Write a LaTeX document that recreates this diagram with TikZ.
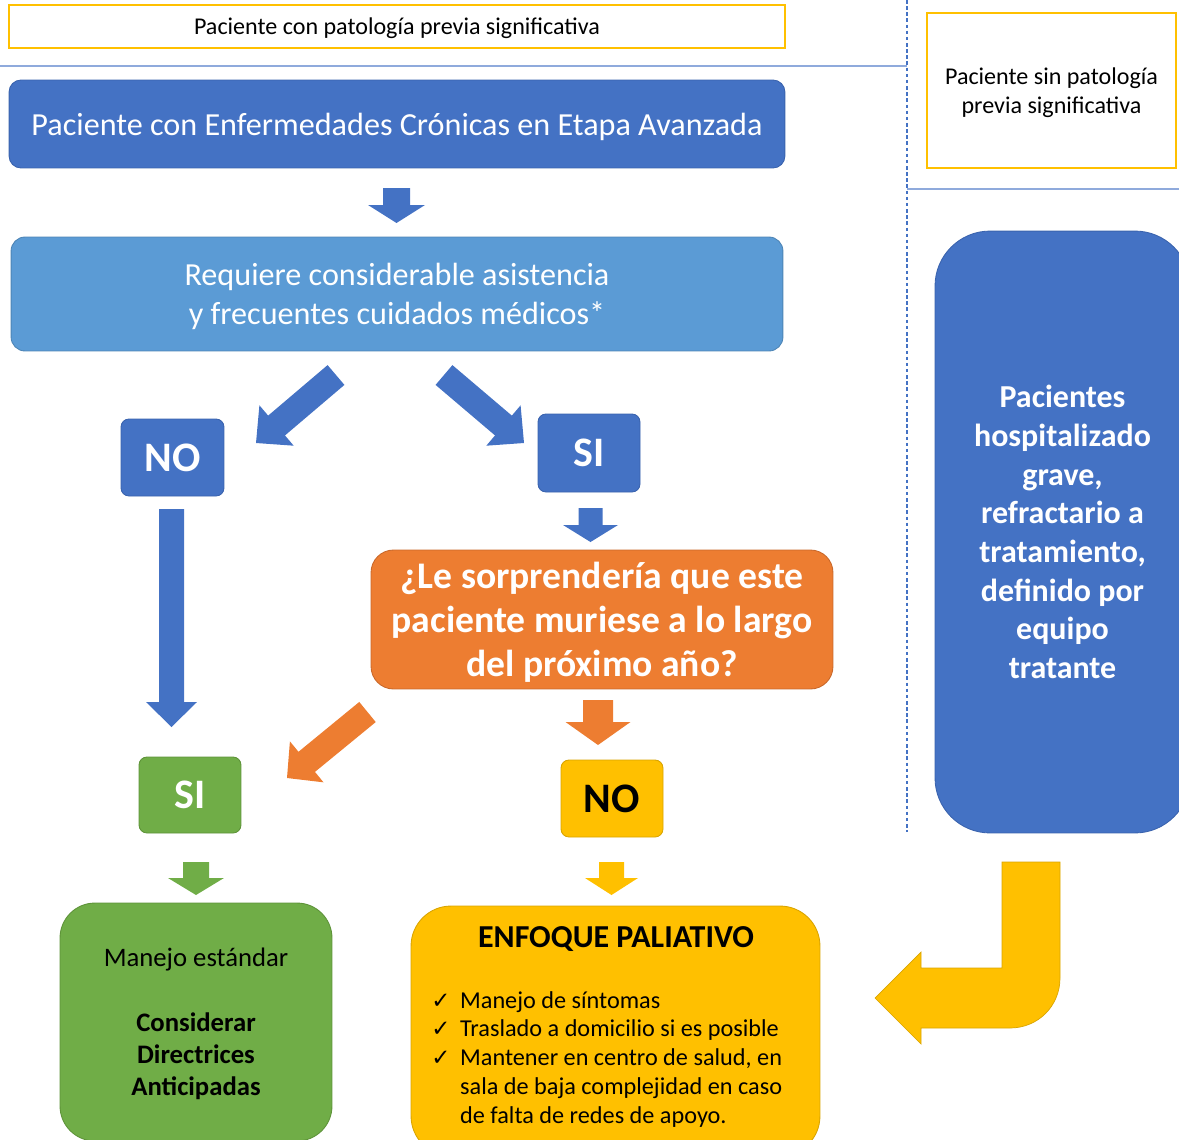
\documentclass[tikz,border=0pt]{standalone}
\usepackage{fontspec}
\setmainfont{Carlito}
\newfontfamily\symfont{DejaVu Sans}
\usetikzlibrary{calc}

\definecolor{azul}{HTML}{4472C4}
\definecolor{azulb}{HTML}{3A63AE}
\definecolor{celeste}{HTML}{5B9BD5}
\definecolor{naranja}{HTML}{ED7D31}
\definecolor{naranjab}{HTML}{C9682A}
\definecolor{verde}{HTML}{70AD47}
\definecolor{verdeb}{HTML}{5E9339}
\definecolor{amarillo}{HTML}{FFC000}
\definecolor{amarillob}{HTML}{D9A400}
\definecolor{linea}{HTML}{8FAADC}

\tikzset{
  etiqueta/.style={draw=amarillo, line width=0.8pt, fill=white, align=center, inner sep=0pt,
    text depth=0pt, font=\fontsize{13.7}{16.4}\selectfont},
  caja/.style={rectangle, rounded corners=#1, line width=0.5pt, align=center, inner sep=0pt},
  caja/.default=0.24cm,
  azulcaja/.style={caja=#1, fill=azul, draw=azulb, text=white},
  azulcaja/.default=0.24cm,
  respuesta/.style={minimum width=2.04cm, minimum height=1.54cm,
    font=\fontsize{23.9}{28}\selectfont\bfseries},
  separa/.style={draw=linea, line width=0.6pt},
}

% block arrow: style, from, to, half shaft, half head, head length
\newcommand{\blockarrow}[6]{%
  \coordinate (hb) at ($(#3)!#6!(#2)$);
  \fill[#1] ($(#2)!#4!90:(#3)$) -- ($(hb)!#4!90:(#3)$) -- ($(hb)!#5!90:(#3)$) -- (#3)
    -- ($(hb)!#5!-90:(#3)$) -- ($(hb)!#4!-90:(#3)$) -- ($(#2)!#4!-90:(#3)$) -- cycle;
}
\newcommand{\marca}{{\symfont\fontsize{13}{16.4}\selectfont ✓}}

\begin{document}
\begin{tikzpicture}[x=0.02cm, y=-0.02cm]
  \useasboundingbox (0,0) rectangle (1179,1139);
  \clip (0,0) rectangle (1179,1139);

  \draw[separa] (0,66) -- (907,66);
  \draw[separa] (907,189) -- (1179,189);
  \draw[azul, line width=0.7pt, dash pattern=on 2pt off 1.5pt] (907,0) -- (907,832);

  \node[etiqueta, minimum width=15.52cm, minimum height=0.86cm] (conprevia) at (397,26.5)
    {Paciente con patología previa significativa};
  \node[etiqueta, minimum width=4.98cm, minimum height=3.1cm] (sinprevia) at (1051.5,90.5)
    {Paciente sin patología\\previa significativa};

  \node[azulcaja, minimum width=15.52cm, minimum height=1.76cm, text depth=0pt,
    font=\fontsize{18.3}{22}\selectfont] (cronica) at (397,124)
    {Paciente con Enfermedades Crónicas en Etapa Avanzada};
  \node[caja=0.28cm, fill=celeste, draw=celeste!85!black, text=white,
    minimum width=15.44cm, minimum height=2.28cm, text depth=0pt,
    font=\fontsize{18.3}{22}\selectfont] (requiere) at (397,294)
    {Requiere considerable asistencia\\y frecuentes cuidados médicos*};

  \node[azulcaja=0.16cm, respuesta, minimum width=2.06cm] (no1) at (172.5,457.5) {NO};
  \node[azulcaja=0.16cm, respuesta, minimum height=1.56cm] (si1) at (589,453) {SI};

  \node[caja=0.45cm, fill=naranja, draw=naranjab, text=white,
    minimum width=9.24cm, minimum height=2.78cm, text depth=0pt,
    font=\fontsize{21.4}{25}\selectfont\bfseries] (pregunta) at (602,619.5)
    {¿Le sorprendería que este\\paciente muriese a lo largo\\del próximo año?};

  \node[caja=0.16cm, respuesta, fill=verde, draw=verdeb, text=white,
    minimum height=1.52cm] (si2) at (190,795) {SI};
  \node[caja=0.16cm, respuesta, fill=amarillo, draw=amarillob, text=black] (no2) at (612,798.5) {NO};

  \node[caja=0.7cm, fill=verde, draw=verdeb, text=black,
    minimum width=5.44cm, minimum height=4.76cm, text depth=0pt,
    font=\fontsize{15.2}{18.4}\selectfont] (manejo) at (196,1022)
    {Manejo estándar\\[18.4pt]\textbf{Considerar}\\\textbf{Directrices}\\\textbf{Anticipadas}};

  \node[caja=0.8cm, fill=amarillo, draw=amarillob,
    minimum width=8.18cm, minimum height=5cm] (paliativo) at (615.5,1031) {};
  \node[font=\fontsize{18.2}{22}\selectfont\bfseries] (titulo) at (616,939) {ENFOQUE PALIATIVO};
  \node[anchor=base west, inner sep=0pt, font=\fontsize{13.8}{16.4}\selectfont] (lista) at (431,1008)
    {\begin{tabular}[t]{@{}l@{\hspace{5.5pt}}l@{}}
      \marca & Manejo de síntomas\\
      \marca & Traslado a domicilio si es posible\\
      \marca & Mantener en centro de salud, en\\
      & sala de baja complejidad en caso\\
      & de falta de redes de apoyo.
    \end{tabular}};

  \node[azulcaja=1.1cm, minimum width=5.1cm, minimum height=12.04cm,
    font=\fontsize{18.2}{22}\selectfont\bfseries] (hosp) at (1062.5,532)
    {Pacientes\\hospitalizado\\grave,\\refractario a\\tratamiento,\\definido por\\equipo\\tratante};

  \coordinate (a1s) at (396.5,188);  \coordinate (a1e) at (396.5,223);
  \coordinate (a2s) at (336,375);    \coordinate (a2e) at (256,443);
  \coordinate (a3s) at (444,375);    \coordinate (a3e) at (524,443);
  \coordinate (a4s) at (590.5,508);  \coordinate (a4e) at (590.5,542);
  \coordinate (a5s) at (171.5,509);  \coordinate (a5e) at (171.5,727);
  \coordinate (a6s) at (367.5,712);  \coordinate (a6e) at (287,778);
  \coordinate (a7s) at (598,700);    \coordinate (a7e) at (598,745);
  \coordinate (a8s) at (196,862);    \coordinate (a8e) at (196,895);
  \coordinate (a9s) at (611.5,862);  \coordinate (a9e) at (611.5,895);

  \blockarrow{fill=azul}{a1s}{a1e}{0.27cm}{0.57cm}{0.36cm}
  \blockarrow{fill=azul}{a2s}{a2e}{0.26cm}{0.53cm}{0.54cm}
  \blockarrow{fill=azul}{a3s}{a3e}{0.26cm}{0.53cm}{0.54cm}
  \blockarrow{fill=azul}{a4s}{a4e}{0.24cm}{0.55cm}{0.34cm}
  \blockarrow{fill=azul}{a5s}{a5e}{0.25cm}{0.51cm}{0.5cm}
  \blockarrow{fill=naranja}{a6s}{a6e}{0.26cm}{0.53cm}{0.51cm}
  \blockarrow{fill=naranja}{a7s}{a7e}{0.3cm}{0.65cm}{0.46cm}
  \blockarrow{fill=verde}{a8s}{a8e}{0.26cm}{0.56cm}{0.34cm}
  \blockarrow{fill=amarillo}{a9s}{a9e}{0.25cm}{0.53cm}{0.34cm}

  % bent arrow towards the palliative box
  \fill[amarillo, draw=amarillob, line width=0.4pt] (875,998) -- (921,952) -- (921,968) -- (1002,968)
    -- (1002,862) -- (1060,862) -- (1060,978) .. controls (1060,1006) and (1038,1028) .. (1010,1028)
    -- (921,1028) -- (921,1044) -- cycle;
\end{tikzpicture}
\end{document}
